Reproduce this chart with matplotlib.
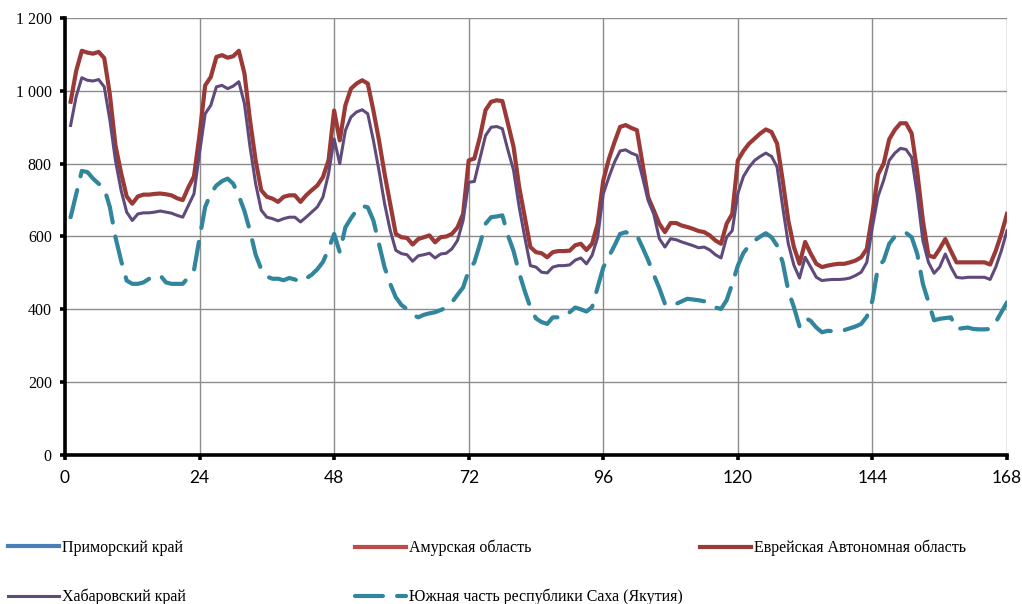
import numpy as np
import matplotlib.pyplot as plt
from matplotlib.ticker import FuncFormatter

# hourly load over one week, hours 1..168
hours = np.arange(1, 169)

# Приморский край and Амурская область are not visible on the picture
primorsky = []
amur = []

jewish_ao = [
    970, 1055, 1110, 1105, 1102, 1107, 1090, 990, 850, 775, 710, 690, 710, 715, 715, 717, 718, 716, 713, 705, 700, 735, 765, 880,
    1015, 1038, 1093, 1098, 1091, 1095, 1110, 1048, 919, 809, 727, 709, 704, 695, 709, 713, 713, 695, 713, 727, 740, 763, 809, 946,
    864, 960, 1006, 1020, 1029, 1020, 946, 864, 772, 690, 607, 598, 596, 578, 593, 598, 603, 584, 598, 600, 607, 625, 662, 809,
    814, 873, 947, 970, 974, 972, 910, 846, 736, 653, 571, 557, 554, 543, 557, 560, 560, 561, 576, 580, 563, 580, 635, 754,
    813, 859, 901, 906, 898, 892, 800, 708, 672, 635, 612, 637, 637, 630, 626, 621, 615, 612, 603, 589, 580, 635, 662, 809,
    835, 855, 869, 883, 894, 887, 855, 754, 644, 571, 525, 585, 553, 525, 516, 520, 523, 525, 525, 529, 534, 543, 566, 662,
    770, 800, 867, 893, 911, 911, 883, 777, 644, 548, 543, 566, 593, 560, 529, 529, 529, 529, 529, 529, 523, 561, 607, 662,
]

khabarovsk = [
    905, 985, 1036, 1029, 1027, 1031, 1011, 920, 809, 727, 667, 644, 662, 665, 665, 667, 670, 667, 664, 658, 653, 685, 717, 830,
    937, 960, 1011, 1015, 1006, 1013, 1025, 965, 846, 745, 672, 653, 649, 643, 649, 653, 653, 640, 653, 667, 681, 708, 772, 868,
    800, 891, 928, 942, 948, 937, 864, 781, 690, 617, 562, 553, 550, 532, 547, 550, 554, 541, 552, 554, 566, 589, 644, 749,
    751, 814, 877, 900, 902, 896, 837, 782, 681, 598, 520, 516, 502, 500, 516, 520, 520, 522, 535, 541, 525, 548, 598, 717,
    763, 804, 835, 838, 829, 823, 763, 699, 662, 594, 571, 594, 591, 585, 580, 575, 569, 571, 563, 550, 541, 598, 616, 718,
    765, 790, 809, 820, 829, 820, 791, 681, 580, 521, 486, 543, 516, 488, 479, 481, 482, 482, 483, 486, 493, 502, 529, 626,
    710, 754, 809, 829, 842, 839, 817, 715, 589, 529, 499, 516, 552, 516, 488, 486, 488, 488, 488, 488, 482, 516, 561, 616,
]

yakutia_south = [
    653, 717, 780, 777, 759, 745, 732, 681, 598, 534, 479, 470, 470, 474, 484, 490, 493, 474, 470, 470, 470, 488, 507, 596,
    681, 718, 740, 752, 759, 745, 712, 670, 615, 550, 510, 490, 484, 484, 480, 486, 482, 475, 485, 495, 510, 530, 565, 607,
    557, 625, 650, 672, 684, 680, 644, 580, 515, 470, 433, 412, 400, 385, 378, 385, 389, 392, 398, 405, 419, 440, 460, 506,
    529, 579, 635, 653, 655, 658, 603, 560, 500, 450, 405, 375, 365, 360, 378, 378, 378, 392, 405, 400, 394, 406, 460, 515,
    545, 575, 607, 612, 605, 603, 570, 535, 495, 458, 415, 408, 415, 422, 429, 427, 425, 422, 412, 405, 401, 425, 470, 520,
    555, 575, 589, 600, 609, 598, 575, 529, 451, 406, 353, 377, 368, 350, 337, 341, 340, 339, 343, 348, 353, 360, 380, 424,
    516, 534, 580, 600, 610, 610, 598, 552, 470, 420, 370, 374, 376, 378, 346, 348, 350, 346, 345, 345, 346, 365, 392, 419,
]

labels = ['Приморский край', 'Амурская область', 'Еврейская Автономная область',
          'Хабаровский край', 'Южная часть республики Саха (Якутия)']

fig = plt.figure(figsize=(10.22, 6.04), dpi=100)
ax = fig.add_axes([0.0636, 0.2467, 0.9217, 0.7235])

l1, = ax.plot(primorsky, primorsky, color='#4A7EBB', lw=3)
l2, = ax.plot(amur, amur, color='#BE4B48', lw=3)
l3, = ax.plot(hours, jewish_ao, color='#9B3937', lw=3, solid_joinstyle='round')
l4, = ax.plot(hours, khabarovsk, color='#604A7B', lw=2.2, solid_joinstyle='round')
l5, = ax.plot(hours, yakutia_south, color='#31859C', lw=3,
              linestyle=(0, (6.7, 3.4)), dash_capstyle='round', dash_joinstyle='round')

ax.set_xlim(0, 168)
ax.set_ylim(0, 1200)
ax.set_xticks(np.arange(0, 169, 24))
ax.set_yticks(np.arange(0, 1201, 200))
ax.yaxis.set_major_formatter(FuncFormatter(lambda v, p: f'{int(v):,}'.replace(',', ' ')))

ax.grid(True, color='#8C8C8C', lw=1.0)
ax.set_axisbelow(True)
for s in ['top', 'right']:
    ax.spines[s].set_visible(False)
for s in ['left', 'bottom']:
    ax.spines[s].set_linewidth(2.6)
    ax.spines[s].set_color('black')

ax.tick_params(axis='both', direction='out', length=3.5, width=2.6, color='black')
ax.tick_params(axis='x', pad=7)
ax.tick_params(axis='y', pad=6)
for t in ax.get_yticklabels():
    t.set_family('Liberation Serif')
    t.set_fontsize(11.5)
for t in ax.get_xticklabels():
    t.set_family('Lato')
    t.set_fontsize(12.5)

# legend entries laid out in a 3-column grid under the chart
positions = [(8, 548), (355, 548), (700, 548), (8, 597), (355, 597)]
for h, lab, (px, py) in zip([l1, l2, l3, l4, l5], labels, positions):
    fig.legend([h], [lab], loc='center left', bbox_to_anchor=(px / 1022, 1 - py / 604),
               frameon=False, borderpad=0, borderaxespad=0, handlelength=3.2, handletextpad=0.15,
               prop={'family': 'Liberation Serif', 'size': 11.5})

fig.savefig('out.png', dpi=100)
